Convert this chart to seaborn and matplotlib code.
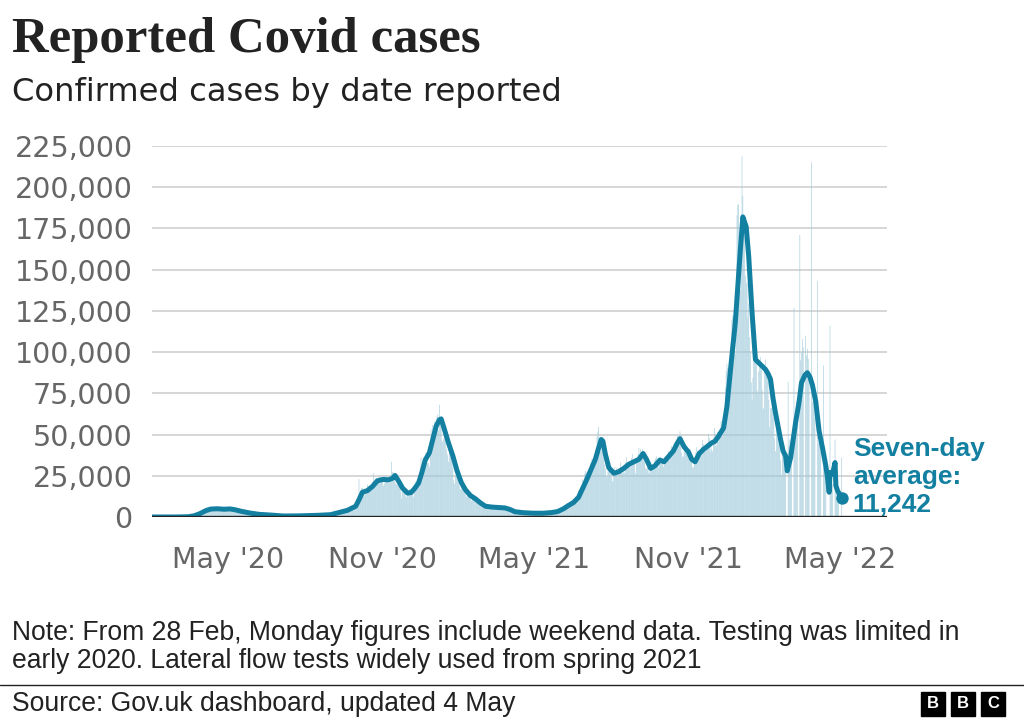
import matplotlib
matplotlib.use("Agg")
import matplotlib.pyplot as plt
from matplotlib.lines import Line2D
from matplotlib.patches import Rectangle
from matplotlib.ticker import FuncFormatter
import pandas as pd
import seaborn as sns

# --- data: daily reported cases (thousands) ---
cases_2020 = [
    0.0,  # 31 Jan
    # Feb
    0, 0, 0, 0, 0, 0, 0, 0, 0, 0, 0, 0, 0, 0, 0, 0, 0, 0, 0, 0, 0, 0, 0, 0, 0, 0, 0, 0, 0,
    # Mar
    0.01, 0.01, 0.01, 0.01, 0.03, 0.05, 0.05, 0.06, 0.05, 0.05, 0.05, 0.13, 0.2, 0.24,
    0.15, 0.17, 0.4, 0.5, 0.6, 0.7, 1.0, 0.7, 0.97, 1.4, 1.4, 2.1, 2.9, 2.5, 2.4, 2.6, 3.0,
    # Apr
    4.3, 4.7, 4.5, 3.7, 5.9, 3.8, 3.6, 5.5, 4.3, 5.2, 5.2, 4.3, 3.4, 5.3,
    4.6, 4.6, 5.6, 4.9, 5.8, 4.7, 4.3, 4.4, 4.6, 5.4, 4.9, 4.5, 4.3, 3.9, 4.1, 6.0,
    # May
    5.1, 4.8, 4.3, 4.2, 4.4, 4.3, 5.6, 4.5, 3.6, 3.9, 3.9, 3.4, 3.2, 3.4,
    3.6, 3.5, 3.1, 3.5, 2.7, 2.5, 2.6, 3.0, 2.9, 2.4, 2.4, 2.0, 2.0, 1.9, 2.1, 2.4, 1.9,
    # Jun
    1.6, 1.6, 1.9, 1.8, 1.7, 1.6, 1.3, 1.2, 1.4, 1.0, 1.5, 1.5, 1.4, 1.5,
    1.1, 1.3, 1.1, 1.2, 1.3, 1.3, 1.2, 1.0, 0.9, 0.7, 1.1, 1.0, 0.9, 0.8, 0.8, 0.7,
    # Jul
    0.8, 0.8, 0.5, 0.6, 0.5, 0.4, 0.6, 0.6, 0.6, 0.6, 0.8, 0.6, 0.5, 0.5,
    0.6, 0.6, 0.7, 0.8, 0.8, 0.6, 0.4, 0.6, 0.8, 0.8, 0.8, 0.7, 0.7, 0.6, 0.8, 0.8, 0.9,
    # Aug
    0.7, 0.7, 0.7, 0.7, 0.9, 0.9, 0.9, 0.9, 1.1, 0.9, 1.0, 1.0, 1.4, 1.4,
    1.1, 1.0, 0.7, 1.1, 0.8, 1.2, 1.0, 1.3, 1.0, 0.9, 1.2, 1.3, 1.3, 1.1, 1.5, 1.7, 1.1,
    # Sep
    1.3, 1.5, 1.7, 1.9, 1.8, 3.0, 2.9, 2.5, 2.7, 3.5, 3.5, 3.5, 3.3, 3.0,
    3.1, 3.9, 3.4, 4.3, 4.4, 3.9, 4.4, 4.9, 6.2, 6.6, 6.9, 6.0, 5.7, 4.0, 7.1, 7.1,
    # Oct
    6.9, 6.9, 12.9, 23.0, 14.5, 14.5, 17.5, 17.5, 13.9, 15.2, 12.9, 13.9, 17.2, 19.7,
    18.9, 16.2, 16.2, 16.9, 18.8, 21.3, 26.7, 21.2, 20.5, 23.0, 19.8, 20.9, 22.9, 24.7,
    23.1, 24.4, 21.9,
    # Nov
    23.3, 18.9, 20.0, 25.2, 24.1, 23.3, 24.9, 20.6, 21.4, 20.4, 22.9, 33.5, 27.3, 26.9,
    24.9, 21.4, 20.1, 19.6, 22.9, 20.2, 20.3, 18.7, 15.5, 11.3, 18.2, 17.6, 16.0, 15.9,
    12.3, 12.3,
    # Dec
    13.4, 14.9, 17.0, 16.3, 15.5, 15.5, 14.7, 12.3, 16.6, 20.9, 21.7, 21.5, 18.4, 20.3,
    18.5, 25.2, 36.0, 28.5, 27.1, 35.9, 33.4, 36.8, 39.2, 32.7, 32.7, 32.7, 30.5, 41.4,
    53.1, 50.0, 55.9,
]

cases_2021 = [
    # Jan
    53.3, 57.7, 55.0, 58.8, 60.9, 62.3, 52.6, 68.1, 59.9, 54.9, 46.2, 45.5, 47.5, 48.7,
    55.8, 41.3, 38.6, 37.5, 33.4, 38.9, 37.9, 40.3, 33.5, 30.0, 22.2, 20.1, 25.3, 28.7,
    29.1, 23.3, 21.1,
    # Feb
    19.2, 16.8, 19.2, 20.6, 18.3, 15.8, 15.8, 14.1, 12.3, 13.0, 12.7, 15.0, 13.3, 10.9,
    9.8, 10.6, 12.7, 12.0, 12.0, 10.4, 9.8, 10.6, 8.5, 9.0, 8.8, 8.5, 7.4, 6.0,
    # Mar
    5.5, 6.4, 6.3, 5.8, 6.1, 6.0, 5.2, 4.7, 5.8, 6.0, 6.8, 6.6, 5.5, 4.6,
    5.1, 5.3, 5.8, 6.3, 4.8, 5.6, 5.3, 5.1, 5.3, 5.6, 6.4, 6.2, 3.9, 4.7, 4.6, 4.1, 4.1,
    # Apr
    4.5, 3.4, 3.4, 2.3, 2.8, 2.4, 2.9, 3.1, 3.2, 2.6, 1.7, 3.6, 2.5, 2.5,
    2.7, 2.6, 1.9, 1.9, 2.5, 2.4, 2.8, 2.6, 2.2, 2.0, 1.6, 2.1, 2.2, 2.4, 2.5, 2.1,
    # May
    1.9, 1.7, 1.6, 2.4, 2.6, 2.5, 2.4, 2.0, 1.6, 2.4, 2.5, 2.7, 2.4, 2.2,
    1.9, 2.3, 2.4, 2.7, 3.0, 3.0, 2.2, 2.0, 1.9, 2.4, 3.0, 3.2, 3.5, 4.2, 3.4, 3.2, 3.2,
    # Jun
    3.2, 4.3, 5.3, 6.2, 5.8, 5.3, 5.7, 6.0, 7.5, 8.1, 8.1, 7.7, 7.5, 7.7,
    7.7, 9.1, 11.0, 10.5, 10.1, 9.3, 10.6, 11.6, 16.1, 16.7, 15.8, 18.3, 14.9, 22.9,
    20.5, 26.1,
    # Jul
    27.9, 27.1, 24.9, 24.2, 27.3, 28.8, 32.5, 32.6, 35.7, 32.4, 31.8, 34.5, 36.7, 42.3,
    48.6, 51.9, 54.7, 48.2, 39.9, 46.6, 44.1, 39.9, 36.4, 31.8, 29.2, 24.9, 24.0, 27.7,
    31.1, 29.6, 26.1,
    # Aug
    24.5, 21.9, 21.7, 29.3, 30.2, 27.4, 29.6, 27.4, 23.5, 29.6, 29.6, 33.1, 29.5, 26.5,
    26.8, 28.4, 26.8, 33.1, 36.4, 32.1, 32.3, 31.9, 31.6, 30.8, 35.8, 38.3, 32.4, 32.2,
    33.0, 26.5, 33.0,
    # Sep
    35.7, 38.2, 42.0, 37.6, 41.2, 37.6, 41.2, 38.9, 38.0, 37.6, 29.5, 29.2, 30.8, 26.6,
    30.6, 26.9, 32.7, 29.6, 29.6, 29.6, 31.6, 34.5, 35.6, 36.7, 35.0, 29.5, 36.3, 34.5,
    36.5, 35.0,
    # Oct
    35.0, 30.3, 32.6, 35.1, 33.9, 33.9, 36.6, 40.0, 34.5, 39.1, 38.2, 43.0, 41.0, 43.0,
    45.1, 43.4, 43.0, 43.7, 49.1, 49.0, 48.7, 52.0, 49.0, 39.0, 36.6, 36.6, 43.9, 39.8,
    43.5, 39.0, 38.0,
    # Nov
    40.0, 40.6, 41.3, 37.3, 34.0, 30.3, 30.0, 32.3, 33.1, 39.3, 42.4, 40.4, 40.2, 36.5,
    39.7, 37.2, 42.5, 46.8, 44.2, 40.9, 40.0, 39.7, 42.4, 43.7, 50.6, 47.8, 39.6, 42.6,
    41.1, 39.7,
    # Dec
    48.4, 53.9, 50.6, 42.5, 43.9, 51.5, 45.7, 51.3, 50.9, 58.2, 54.1, 48.9, 54.7, 59.6,
    78.6, 88.4, 93.0, 90.4, 82.9, 91.7, 90.6, 106.1, 119.8, 122.2, 105.0, 113.6, 99.0,
    129.5, 183.0, 189.2, 189.8,
]

cases_2022 = [
    # Jan
    162.6, 137.5, 157.8, 218.7, 194.7, 179.8, 178.3, 146.4, 141.5, 142.2, 120.8, 129.6,
    109.1, 99.7, 81.7, 70.9, 84.4, 94.4, 108.1, 107.4, 95.8, 76.8, 74.8, 88.4, 94.3,
    96.9, 89.2, 77.0, 65.5, 66.0, 90.0,
    # Feb
    95.6, 88.1, 87.1, 84.2, 71.1, 54.5, 66.2, 66.1, 68.2, 66.1, 60.0, 47.6, 39.9, 53.9,
    53.7, 47.8, 55.1, 46.7, 34.4, 25.7, 38.9, 41.4, 43.7, 40.7, 30.6, 0, 0, 82.0,
    # Mar
    43, 47, 45, 40, 0, 0, 127, 55, 60, 70, 65, 0, 0, 171,
    95, 100, 108, 103, 0, 0, 110, 98, 102, 96, 88, 0, 0, 215, 70, 75, 65,
    # Apr
    60, 0, 0, 143, 45, 48, 45, 40, 0, 0, 92, 30, 33, 30,
    0, 0, 0, 0, 116, 25, 22, 20, 0, 0, 47, 16, 14, 13, 11, 0,
    # May
    0, 0, 36,
]

# seven-day average (thousands)
avg_dates = [
    "2020-01-31", "2020-02-29", "2020-03-14", "2020-03-21", "2020-03-28", "2020-04-04",
    "2020-04-10", "2020-04-18", "2020-04-26", "2020-05-03", "2020-05-09", "2020-05-17",
    "2020-05-27", "2020-06-07", "2020-06-20", "2020-07-06", "2020-07-25", "2020-08-15",
    "2020-08-31", "2020-09-10", "2020-09-20", "2020-09-30", "2020-10-04", "2020-10-08",
    "2020-10-14", "2020-10-20", "2020-10-26", "2020-11-02", "2020-11-08", "2020-11-13",
    "2020-11-16", "2020-11-20", "2020-11-25", "2020-12-01", "2020-12-05", "2020-12-09",
    "2020-12-14", "2020-12-18", "2020-12-22", "2020-12-27", "2020-12-31", "2021-01-04",
    "2021-01-08", "2021-01-10", "2021-01-14", "2021-01-19", "2021-01-24", "2021-01-29",
    "2021-02-03", "2021-02-08", "2021-02-14", "2021-02-20", "2021-02-26", "2021-03-04",
    "2021-03-12", "2021-03-20", "2021-03-27", "2021-04-02", "2021-04-08", "2021-04-18",
    "2021-04-30", "2021-05-12", "2021-05-22", "2021-05-29", "2021-06-05", "2021-06-11",
    "2021-06-17", "2021-06-23", "2021-06-28", "2021-07-03", "2021-07-08", "2021-07-13",
    "2021-07-17", "2021-07-20", "2021-07-22", "2021-07-25", "2021-07-29", "2021-08-04",
    "2021-08-10", "2021-08-16", "2021-08-22", "2021-08-28", "2021-09-03", "2021-09-08",
    "2021-09-12", "2021-09-17", "2021-09-22", "2021-09-28", "2021-10-03", "2021-10-08",
    "2021-10-14", "2021-10-19", "2021-10-22", "2021-10-27", "2021-11-01", "2021-11-05",
    "2021-11-09", "2021-11-14", "2021-11-19", "2021-11-24", "2021-11-29", "2021-12-03",
    "2021-12-07", "2021-12-13", "2021-12-17", "2021-12-21", "2021-12-27", "2022-01-02",
    "2022-01-05", "2022-01-09", "2022-01-12", "2022-01-16", "2022-01-20", "2022-01-26",
    "2022-02-01", "2022-02-04", "2022-02-07", "2022-02-10", "2022-02-13", "2022-02-16",
    "2022-02-19", "2022-02-22", "2022-02-25", "2022-02-27", "2022-03-03", "2022-03-09",
    "2022-03-13", "2022-03-16", "2022-03-20", "2022-03-23", "2022-03-26", "2022-03-29",
    "2022-04-02", "2022-04-06", "2022-04-10", "2022-04-14", "2022-04-16", "2022-04-18",
    "2022-04-19", "2022-04-22", "2022-04-25", "2022-04-26", "2022-04-28", "2022-05-03",
]
avg_values = [
    0.0, 0.02, 0.15, 0.7, 2.0, 3.8,
    4.8, 5.0, 4.7, 4.9, 4.4, 3.4,
    2.4, 1.6, 1.2, 0.6, 0.7, 1.0,
    1.4, 2.7, 4.0, 6.5, 10.5, 15.0,
    16.0, 18.5, 22.0, 22.8, 22.5, 23.5,
    25.2, 22.0, 17.5, 14.5, 14.8, 17.0,
    20.5, 27.0, 34.5, 39.0, 47.0, 55.0,
    59.0, 59.5, 53.0, 44.5, 37.0, 28.0,
    21.0, 16.5, 13.0, 11.0, 8.5, 6.5,
    6.0, 5.7, 5.5, 4.6, 3.2, 2.6,
    2.3, 2.3, 2.7, 3.3, 5.0, 7.0,
    8.8, 12.0, 17.5, 23.0, 29.0, 35.0,
    42.0, 47.0, 46.0, 38.0, 30.0, 26.5,
    27.5, 29.5, 32.0, 33.5, 35.0, 38.5,
    35.0, 29.5, 31.0, 34.5, 33.5, 36.5,
    40.0, 45.0, 47.5, 42.5, 39.5, 35.0,
    33.5, 38.5, 41.0, 43.0, 45.0, 46.0,
    49.0, 54.0, 67.0, 88.0, 118.0, 162.0,
    182.0, 176.0, 158.0, 124.0, 95.5, 92.5,
    89.5, 87.0, 83.5, 72.0, 63.0, 55.0,
    47.0, 40.0, 37.0, 28.0, 36.0, 57.5,
    69.5, 81.5, 86.0, 87.5, 85.0, 80.0,
    70.0, 52.0, 42.0, 31.0, 24.0, 15.0,
    27.0, 26.0, 33.0, 19.0, 16.0, 11.242,
]

tick_dates = ["2020-05-01", "2020-11-01", "2021-05-01", "2021-11-01", "2022-05-01"]
tick_labels = ["May '20", "Nov '20", "May '21", "Nov '21", "May '22"]
y_ticks = [0, 25, 50, 75, 100, 125, 150, 175, 200, 225]
latest_label = "Seven-day\naverage:\n11,242"

# --- tables ---
daily = pd.DataFrame({
    "date": list(pd.date_range("2020-01-31", periods=len(cases_2020)))
    + list(pd.date_range("2021-01-01", periods=len(cases_2021)))
    + list(pd.date_range("2022-01-01", periods=len(cases_2022))),
    "cases": cases_2020 + cases_2021 + cases_2022,
})
avg = pd.DataFrame({"date": pd.to_datetime(avg_dates), "cases": avg_values})

# --- styling ---
sns.set_style("white")
plt.rcParams["font.family"] = ["DejaVu Sans"]

LINE = "#1380a1"
BAR = "#9fcadb"
GREY = "#666666"

fig = plt.figure(figsize=(10.24, 7.21), dpi=100)
ax = fig.add_axes([152 / 1024, 1 - 517 / 721, (887 - 152) / 1024, (517 - 146) / 721])

bars = ax.bar(daily["date"], daily["cases"], width=0.7, color=BAR, linewidth=0,
              zorder=2)
for b in bars:
    b.set_snap(False)
sns.lineplot(data=avg, x="date", y="cases", ax=ax, color=LINE, linewidth=3.6,
             estimator=None, sort=False, zorder=3,
             solid_capstyle="round", solid_joinstyle="round")
last = avg.iloc[-1]
ax.scatter([last["date"]], [last["cases"]], s=80, color=LINE, zorder=4, linewidths=0)
ax.annotate(latest_label, xy=(last["date"], last["cases"]), xytext=(8, -13),
            textcoords="offset points", ha="left", va="bottom",
            fontsize=19, fontweight="bold", color=LINE, family="Liberation Sans",
            linespacing=1.2, annotation_clip=False)

ax.set_xlim(pd.Timestamp("2020-01-31"), pd.Timestamp("2022-06-26"))
ax.set_ylim(0, 225)
ax.set_yticks(y_ticks)
ax.yaxis.set_major_formatter(FuncFormatter(lambda v, _: f"{v * 1000:,.0f}"))
ax.set_xticks(pd.to_datetime(tick_dates))
ax.set_xticklabels(tick_labels)
ax.tick_params(axis="y", length=0, pad=14, labelsize=20.5, labelcolor=GREY)
ax.tick_params(axis="x", length=8, width=1.2, color="#222222", pad=13,
               labelsize=20.5, labelcolor=GREY)
ax.set_xlabel("")
ax.set_ylabel("")
ax.grid(axis="y", color="#cccccc", linewidth=1.1, zorder=0)
ax.set_axisbelow(True)
for s in ax.spines.values():
    s.set_visible(False)
ax.axhline(0, color="#222222", linewidth=2.4, zorder=5)

# --- titles and footer ---
fig.text(12 / 1024, 1 - 52 / 721, "Reported Covid cases", fontsize=36.5,
         fontweight="bold", family="Liberation Serif", color="#222222", va="baseline")
fig.text(12 / 1024, 1 - 101 / 721, "Confirmed cases by date reported", fontsize=23.2,
         color="#222222", va="baseline")
fig.text(12 / 1024, 1 - 640 / 721,
         "Note: From 28 Feb, Monday figures include weekend data. Testing was limited in",
         fontsize=19.1, family="Liberation Sans", color="#222222", va="baseline")
fig.text(12 / 1024, 1 - 668 / 721,
         "early 2020. Lateral flow tests widely used from spring 2021",
         fontsize=19.1, family="Liberation Sans", color="#222222", va="baseline")
fig.add_artist(Line2D([0, 1], [1 - 685 / 721, 1 - 685 / 721], color="#222222",
                      linewidth=1.0, transform=fig.transFigure))
fig.text(12 / 1024, 1 - 711 / 721, "Source: Gov.uk dashboard, updated 4 May",
         fontsize=19.1, family="Liberation Sans", color="#222222", va="baseline")
for i, letter in enumerate("BBC"):
    x0 = (921 + i * 30) / 1024
    fig.add_artist(Rectangle((x0, 1 - 716 / 721), 24 / 1024, 24 / 721,
                             transform=fig.transFigure, color="#000000"))
    fig.text(x0 + 12 / 1024, 1 - 704 / 721, letter, color="white", fontsize=12,
             fontweight="bold", family="Liberation Sans", ha="center", va="center")

fig.savefig("out.png", dpi=100)
plt.close(fig)
